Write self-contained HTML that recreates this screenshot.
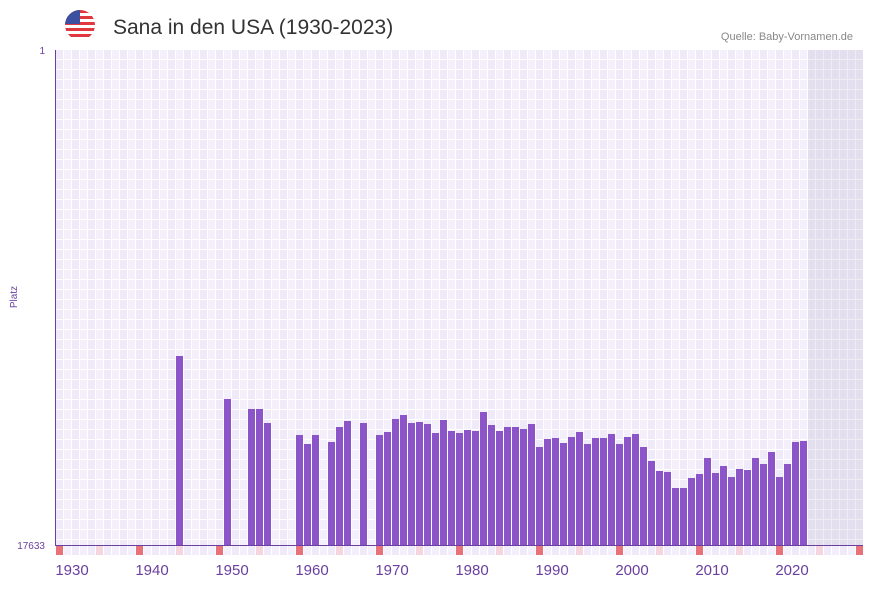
<!DOCTYPE html>
<html><head><meta charset="utf-8"><style>
body{margin:0;background:#fff;width:873px;height:587px;overflow:hidden;font-family:"Liberation Sans",sans-serif}
</style></head><body>
<svg width="873" height="587" xmlns="http://www.w3.org/2000/svg">
<defs>
<pattern id="g" x="56" y="50" width="16" height="10" patternUnits="userSpaceOnUse">
<rect width="16" height="10" fill="#fff"/>
<rect x="0" y="0" width="7" height="9" fill="#efe9f9"/>
<rect x="8" y="0" width="7" height="9" fill="#f3f0fb"/>
</pattern>
<pattern id="gs" x="56" y="50" width="8" height="10" patternUnits="userSpaceOnUse">
<rect width="8" height="10" fill="#efedf3"/>
<rect x="0" y="0" width="7" height="9" fill="#e3dfee"/>
</pattern>
<clipPath id="fc"><circle cx="80" cy="25" r="15"/></clipPath>
</defs>
<rect x="56" y="50" width="807" height="495" fill="url(#g)"/>
<rect x="808" y="50" width="55" height="495" fill="url(#gs)"/>
<g clip-path="url(#fc)">
<rect x="65" y="10" width="30" height="30" fill="#fff"/>
<rect x="65" y="10" width="30" height="3" fill="#e0383e"/>
<rect x="65" y="16" width="30" height="3" fill="#e0383e"/>
<rect x="65" y="22" width="30" height="3" fill="#e0383e"/>
<rect x="65" y="28" width="30" height="3" fill="#e0383e"/>
<rect x="65" y="34" width="30" height="3" fill="#e0383e"/>
<rect x="65" y="10" width="15" height="14" fill="#3d4f9f"/>
</g>
<text x="113" y="34" font-size="21" fill="#333">Sana in den USA (1930-2023)</text>
<text x="853" y="40" font-size="11" fill="#888" text-anchor="end">Quelle: Baby-Vornamen.de</text>
<text x="45" y="54" font-size="10" fill="#6a3fa0" text-anchor="end">1</text>
<text x="45" y="549" font-size="10" fill="#6a3fa0" text-anchor="end">17633</text>
<text x="17" y="297" font-size="10" fill="#6a3fa0" text-anchor="middle" transform="rotate(-90 17 297)">Platz</text>
<g id="bars" fill="#8b54c8"></g>
<g id="marks"></g>
<line x1="55.5" y1="50" x2="55.5" y2="545" stroke="#6a3fa0"/>
<line x1="55" y1="545.5" x2="863" y2="545.5" stroke="#6a3fa0"/>
<g font-size="15" fill="#6a3fa0" text-anchor="middle">
<text x="72" y="575">1930</text><text x="152" y="575">1940</text><text x="232" y="575">1950</text><text x="312" y="575">1960</text><text x="392" y="575">1970</text><text x="472" y="575">1980</text><text x="552" y="575">1990</text><text x="632" y="575">2000</text><text x="712" y="575">2010</text><text x="792" y="575">2020</text>
</g>
</svg>
<script>
var d={15:356,21:399,24:409,25:409,26:423,30:435,31:444,32:435,34:442,35:427,36:421,38:423,40:435,41:432,42:419,43:415,44:423,45:422,46:424,47:433,48:420,49:431,50:433,51:430,52:431,53:412,54:425,55:431,56:427,57:427,58:429,59:424,60:447,61:439,62:438,63:443,64:437,65:432,66:444,67:438,68:438,69:434,70:444,71:437,72:434,73:447,74:461,75:471,76:472,77:488,78:488,79:478,80:474,81:458,82:473,83:466,84:477,85:469,86:470,87:458,88:464,89:452,90:477,91:464,92:442,93:441};
var ns="http://www.w3.org/2000/svg",b=document.getElementById("bars"),m=document.getElementById("marks");
for(var i in d){var r=document.createElementNS(ns,"rect");r.setAttribute("x",56+8*i);r.setAttribute("y",d[i]);r.setAttribute("width",7);r.setAttribute("height",545-d[i]);b.appendChild(r);}
for(var i=0;i<=100;i++){var r=document.createElementNS(ns,"rect");r.setAttribute("x",56+8*i);r.setAttribute("y",546);r.setAttribute("width",7);r.setAttribute("height",9);
r.setAttribute("fill",i%10==0?"#e8727a":(i%5==0?"#f5d6de":(i%2?"#f3f0fb":"#efe9f9")));m.appendChild(r);}
</script>
</body></html>
